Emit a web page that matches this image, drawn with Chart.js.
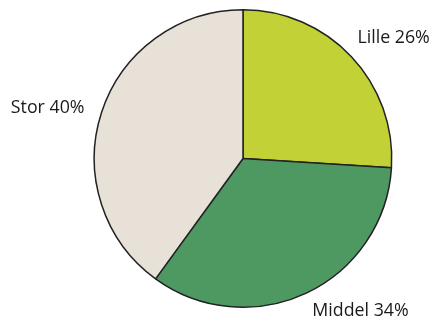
<!DOCTYPE html>
<html>
<head>
<meta charset="utf-8">
<script src="https://cdn.jsdelivr.net/npm/chart.js@4"></script>
<style>
  html, body { margin: 0; padding: 0; background: #fff; }
  #wrap { width: 433px; height: 319px; }
</style>
</head>
<body>
<div id="wrap"><canvas id="chart" width="433" height="319"></canvas></div>
<script>
const categories = ['Lille', 'Middel', 'Stor'];
const shares = [26, 34, 40];
const sliceColors = ['#c2d136', '#4e9862', '#e8e1d8'];

// where each label sits relative to the slice's outer mid point
const labelSpots = [
  { dx: 6, dy: -19, align: 'left' },
  { dx: 6, dy: 18, align: 'left' },
  { dx: -17, dy: -5, align: 'right' }
];

const outsideLabels = {
  id: 'outsideLabels',
  afterDraw(chart) {
    const ctx = chart.ctx;
    const meta = chart.getDatasetMeta(0);
    ctx.save();
    ctx.font = '17.8px "Open Sans", Lato, sans-serif';
    ctx.fillStyle = '#1a1a1a';
    ctx.textBaseline = 'middle';
    meta.data.forEach((arc, i) => {
      const mid = (arc.startAngle + arc.endAngle) / 2;
      const x = arc.x + Math.cos(mid) * arc.outerRadius;
      const y = arc.y + Math.sin(mid) * arc.outerRadius;
      const spot = labelSpots[i];
      ctx.textAlign = spot.align;
      ctx.fillText(categories[i] + ' ' + shares[i] + '%', x + spot.dx, y + spot.dy);
    });
    ctx.restore();
  }
};

new Chart(document.getElementById('chart'), {
  type: 'pie',
  data: {
    labels: categories,
    datasets: [{
      data: shares,
      backgroundColor: sliceColors,
      borderColor: '#222',
      borderWidth: 1.5
    }]
  },
  options: {
    responsive: false,
    animation: false,
    layout: { padding: { left: 93, right: 40, top: 9, bottom: 11 } },
    plugins: {
      legend: { display: false },
      tooltip: { enabled: false }
    }
  },
  plugins: [outsideLabels]
});
</script>
</body>
</html>
